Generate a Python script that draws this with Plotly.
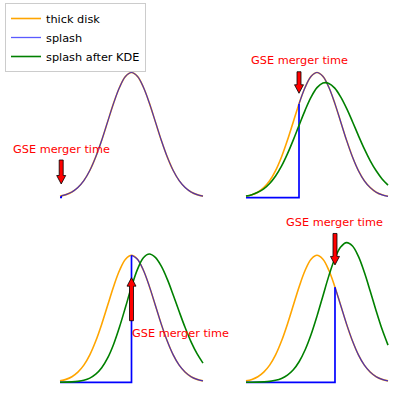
import plotly.graph_objects as go

# ---------------- data ----------------
x_grid = [-3.0, -2.75, -2.5, -2.25, -2.0, -1.75, -1.5, -1.25, -1.0, -0.75, -0.5, -0.25,
          0.0, 0.25, 0.5, 0.75, 1.0, 1.25, 1.5, 1.75, 2.0, 2.25, 2.5, 2.75, 3.0]

thick_disk = [0.011, 0.023, 0.044, 0.080, 0.135, 0.216, 0.325, 0.458, 0.607, 0.755, 0.882, 0.969,
              1.0, 0.969, 0.882, 0.755, 0.607, 0.458, 0.325, 0.216, 0.135, 0.080, 0.044, 0.023, 0.011]

kde_panel2 = [0.013, 0.024, 0.043, 0.071, 0.114, 0.174, 0.252, 0.350, 0.462, 0.582, 0.700, 0.803,
              0.879, 0.916, 0.913, 0.875, 0.805, 0.713, 0.607, 0.496, 0.390, 0.295, 0.215, 0.150, 0.101]
kde_panel3 = [0.0005, 0.0012, 0.003, 0.0074, 0.016, 0.033, 0.064, 0.115, 0.192, 0.300, 0.437, 0.593,
              0.752, 0.889, 0.981, 1.010, 0.983, 0.914, 0.812, 0.688, 0.557, 0.431, 0.318, 0.225, 0.151]
kde_panel4 = [0.0002, 0.0005, 0.0014, 0.0033, 0.0073, 0.0154, 0.030, 0.057, 0.099, 0.164, 0.256, 0.376,
              0.521, 0.680, 0.838, 0.973, 1.065, 1.100, 1.073, 0.991, 0.866, 0.717, 0.562, 0.417, 0.293]
kde_curves = [None, kde_panel2, kde_panel3, kde_panel4]

merger_time = [-2.95, -0.76, 0.0, 0.76]
splash_level = [0.013, 0.749, 1.0, 0.749]
arrow_tip = [0.108, 0.834, 0.824, 0.924]
arrow_tail = [0.30, 1.006, 0.485, 1.172]
label_y = [0.38, 1.094, 0.388, 1.257]
label_text = "GSE merger time"
series_names = ["thick disk", "splash", "splash after KDE"]

# ---------------- layout geometry (pixels) ----------------
W, H = 400, 396
centers_x = [131.5, 317.0, 131.5, 317.0]
px_per_x = [23.83, 23.67, 23.83, 23.67]
baselines = [197.5, 197.7, 382.3, 382.3]
px_per_y = [125.0, 125.2, 127.0, 127.0]
XR = (-3.3, 3.3)
YR = (-0.08, 1.35)
label_anchor = ["center", "center", "left", "center"]
label_xshift = [0, 0, -2, 0]

ORANGE = "orange"
BLUE = "rgba(0,0,255,0.7)"
STEP_BLUE = "blue"
LEGEND_BLUE = "rgb(90,90,255)"
GREEN = "green"
FONT = "DejaVu Sans"

fig = go.Figure()
layout = {}
shapes = []
annotations = []

for i in range(4):
    sfx = "" if i == 0 else str(i + 1)
    xa, ya = "x" + sfx, "y" + sfx
    t = merger_time[i]

    # orange thick disk
    fig.add_trace(go.Scatter(x=x_grid, y=thick_disk, mode="lines", xaxis=xa, yaxis=ya,
                             line=dict(color=ORANGE, width=1.6, shape="spline"),
                             name=series_names[0], showlegend=(i == 0), hoverinfo="skip"))
    # legend entry for splash (thin blue line, as in the reference legend)
    if i == 0:
        fig.add_trace(go.Scatter(x=[None], y=[None], mode="lines", xaxis=xa, yaxis=ya,
                                 line=dict(color=LEGEND_BLUE, width=1.3),
                                 name=series_names[1], showlegend=True, hoverinfo="skip"))
    # blue splash: step part
    fig.add_trace(go.Scatter(x=[x_grid[0], t, t], y=[0, 0, splash_level[i]], mode="lines",
                             xaxis=xa, yaxis=ya, line=dict(color=STEP_BLUE, width=1.7),
                             showlegend=False, hoverinfo="skip"))
    # blue splash: curve part
    sx = [t] + [xv for xv in x_grid if xv > t + 0.1]
    sy = [splash_level[i]] + [yv for xv, yv in zip(x_grid, thick_disk) if xv > t + 0.1]
    fig.add_trace(go.Scatter(x=sx, y=sy, mode="lines", xaxis=xa, yaxis=ya,
                             line=dict(color=BLUE, width=1.2, shape="spline"),
                             name=series_names[1], showlegend=False, hoverinfo="skip"))
    # green KDE
    if kde_curves[i] is not None:
        fig.add_trace(go.Scatter(x=x_grid, y=kde_curves[i], mode="lines", xaxis=xa, yaxis=ya,
                                 line=dict(color=GREEN, width=1.6, shape="spline"),
                                 name=series_names[2], showlegend=(i == 1), hoverinfo="skip"))

    # axis domains from pixel geometry
    x0p = centers_x[i] + XR[0] * px_per_x[i]
    x1p = centers_x[i] + XR[1] * px_per_x[i]
    ytop = baselines[i] - YR[1] * px_per_y[i]
    ybot = baselines[i] - YR[0] * px_per_y[i]
    layout["xaxis" + sfx] = dict(domain=[x0p / W, x1p / W], range=list(XR), visible=False,
                                 anchor=ya, fixedrange=True)
    layout["yaxis" + sfx] = dict(domain=[1 - ybot / H, 1 - ytop / H], range=list(YR), visible=False,
                                 anchor=xa, fixedrange=True)

    # arrow (red, black edge)
    tip, tail = arrow_tip[i], arrow_tail[i]
    direction = 1 if tail > tip else -1
    hl = 8.5 / px_per_y[i]
    yh = tip + direction * hl
    path = (f"M -2,{tail} L 2,{tail} L 2,{yh} L 4.5,{yh} L 0,{tip} "
            f"L -4.5,{yh} L -2,{yh} Z")
    shapes.append(dict(type="path", xref=xa, yref=ya, xsizemode="pixel", xanchor=t,
                       path=path, fillcolor="red", line=dict(color="black", width=0.8),
                       layer="above"))

    annotations.append(dict(x=t, y=label_y[i], xref=xa, yref=ya, text=label_text,
                            showarrow=False, xanchor=label_anchor[i], yanchor="middle",
                            xshift=label_xshift[i],
                            font=dict(family=FONT, size=11.3, color="red")))

fig.update_layout(
    width=W, height=H,
    margin=dict(l=0, r=0, t=0, b=0),
    paper_bgcolor="white", plot_bgcolor="white",
    shapes=shapes, annotations=annotations,
    legend=dict(x=5 / W, y=1 - 3 / H, xanchor="left", yanchor="top",
                bgcolor="rgba(255,255,255,0.8)", bordercolor="#cccccc", borderwidth=1,
                font=dict(family=FONT, size=11.3, color="black"), traceorder="normal",
                itemwidth=30, tracegroupgap=0),
    **layout,
)

fig.write_html("out.html")
